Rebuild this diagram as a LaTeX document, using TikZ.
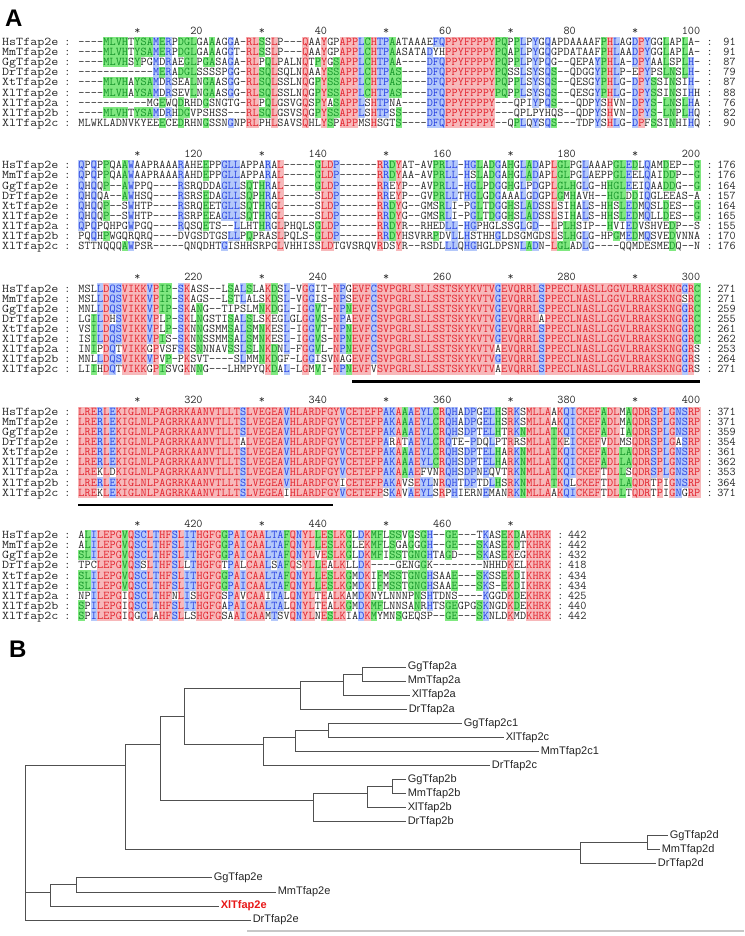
\documentclass[tikz,border=0pt]{standalone}
\usepackage{fontspec}
\usepackage{graphicx}
\setmainfont{Liberation Sans}
\usetikzlibrary{positioning}

\definecolor{alnbgr}{RGB}{247,184,186}
\definecolor{alnfgr}{RGB}{226,34,44}
\definecolor{alnbgb}{RGB}{180,200,250}
\definecolor{alnfgb}{RGB}{40,66,226}
\definecolor{alnbgg}{RGB}{128,232,128}
\definecolor{alnfgg}{RGB}{22,150,42}
\definecolor{alnfgn}{RGB}{40,40,40}
\definecolor{treeline}{RGB}{80,80,80}
\definecolor{hilite}{RGB}{232,24,24}

\newcommand{\alncw}{6.22}  % column pitch
\newcommand{\alnxo}{81.5}  % centre of column 1
\newcommand{\alnrh}{10.1}  % row pitch
\newcommand{\alnfont}{\fontsize{11.85}{12}\selectfont\ttfamily}
\newcounter{alnrowno}

% one residue: class, letter
\newcommand{\alncell}[2]{\hbox to \alncw pt{\hss\color{alnfg#1}#2\hss}}
% shaded run: class, first column, last column, y
\newcommand{\alnrun}[4]{%
  \fill[alnbg#1] ({\alnxo+(#2-1.5)*\alncw-0.1},{#4-\alnrh/2-0.2})
    rectangle ({\alnxo+(#3-0.5)*\alncw+0.1},{#4+\alnrh/2+0.2});}
% one row of residues: y, content
\newcommand{\alntext}[2]{\stepcounter{alnrowno}%
  \node[alnseq] (seq\arabic{alnrowno}) at ({\alnxo-\alncw/2},{#1+3.6}) {#2};}
% names: block, y of first row
\newcommand{\alnnames}[2]{%
  \foreach \nm [count=\r from 0] in {HsTfap2e,MmTfap2e,GgTfap2e,DrTfap2e,XtTfap2e,XlTfap2e,XlTfap2a,XlTfap2b,XlTfap2c}
    {\node[alnname] (nm#1-\r) at (2,{#2+\r*\alnrh+3.6}) {\scalebox{1.15}[1]{\nm}};
     \node[alncolon] (cl#1-\r) at (67.5,{#2+\r*\alnrh+3.6}) {:};}}
% end counts: block, y of first row, last column, counts
\newcommand{\alncounts}[4]{%
  \foreach \num [count=\r from 0] in {#4}
    {\node[alncolon] (cr#1-\r) at ({\alnxo+(#3+1)*\alncw},{#2+\r*\alnrh+3.6}) {:};
     \node[alnnum] (ct#1-\r) at ({\alnxo+(#3+5.2)*\alncw},{#2+\r*\alnrh+3.6}) {\num};}}
% ruler: y, offset, last column
\newcommand{\alnruler}[3]{%
  \foreach \c in {10,30,...,#3}
    {\node[alncolon] (st#2-\c) at ({\alnxo+(\c-1)*\alncw},{#1+3.6}) {*};}
  \foreach \c in {20,40,...,#3}
    {\pgfmathtruncatemacro\lab{#2+\c}
     \node[alnnum] (rn#2-\c) at ({\alnxo+(\c-0.5)*\alncw},{#1+3.6}) {\lab};}}

\ExplSyntaxOn
\int_new:N \l_aln_n_int
\int_new:N \l_aln_len_int
\int_new:N \l_aln_j_int
\int_new:N \l_aln_cnt_int
\int_new:N \l_aln_start_int
\tl_new:N \l_aln_ci_tl
\tl_new:N \l_aln_cur_tl
\tl_new:N \l_aln_prev_tl
\tl_new:N \l_aln_txt_tl
\fp_new:N \l_aln_y_fp
\fp_new:N \l_aln_ytop_fp
\seq_new:N \l_aln_rows_seq
\tl_const:Nx \c_aln_gap_tl { \tl_to_str:n { - } }
\tl_const:Nx \c_aln_none_tl { \tl_to_str:n { n } }

% 9 of 9 red, 7-8 blue, 5-6 green
\cs_new:Npn \aln_class:n #1
  {
    \int_compare:nNnTF {#1} > { 8 } { r }
      { \int_compare:nNnTF {#1} > { 6 } { b }
        { \int_compare:nNnTF {#1} > { 4 } { g } { n } } }
  }
\cs_new:Npn \aln_cls:nn #1#2 { \exp_args:Nv \str_item:nn { l_aln_cls_#1_tl } {#2} }
\cs_new:Npn \aln_chr:nn #1#2 { \exp_args:Nv \str_item:nn { l_aln_row_#1_tl } {#2} }
\cs_new_protected:Npn \aln_store:n #1
  {
    \tl_set:cx { l_aln_row_#1_tl } { \seq_item:Nn \l_aln_rows_seq {#1} }
    \tl_clear:c { l_aln_cls_#1_tl }
  }
\cs_new_protected:Npn \aln_getchar:n #1
  { \tl_set:cx { l_aln_c_#1_tl } { \aln_chr:nn {#1} { \l_aln_j_int } } }
\cs_new_protected:Npn \aln_match:n #1
  { \tl_if_eq:NcT \l_aln_ci_tl { l_aln_c_#1_tl } { \int_incr:N \l_aln_cnt_int } }
\cs_new_protected:Npn \aln_classify:n #1
  {
    \int_zero:N \l_aln_cnt_int
    \tl_set_eq:Nc \l_aln_ci_tl { l_aln_c_#1_tl }
    \tl_if_eq:NNF \l_aln_ci_tl \c_aln_gap_tl
      { \int_step_function:nN { \l_aln_n_int } \aln_match:n }
    \tl_put_right:cx { l_aln_cls_#1_tl } { \aln_class:n { \l_aln_cnt_int } }
  }
\cs_new_protected:Npn \aln_column:n #1
  {
    \int_set:Nn \l_aln_j_int {#1}
    \int_step_function:nN { \l_aln_n_int } \aln_getchar:n
    \int_step_function:nN { \l_aln_n_int } \aln_classify:n
  }
\cs_new_protected:Npn \aln_drawrow:n #1
  {
    \fp_set:Nn \l_aln_y_fp { \l_aln_ytop_fp + (#1 - 1) * \alnrh }
    \tl_clear:N \l_aln_txt_tl
    \tl_set_eq:NN \l_aln_prev_tl \c_aln_none_tl
    \int_set:Nn \l_aln_start_int { 1 }
    \int_step_inline:nn { \l_aln_len_int + 1 }
      {
        \int_compare:nNnTF {##1} > { \l_aln_len_int }
          { \tl_set_eq:NN \l_aln_cur_tl \c_aln_none_tl }
          {
            \tl_set:Nx \l_aln_cur_tl { \aln_cls:nn {#1} {##1} }
            \tl_put_right:Nx \l_aln_txt_tl
              { \exp_not:N \alncell { \l_aln_cur_tl } { \aln_chr:nn {#1} {##1} } }
          }
        \tl_if_eq:NNF \l_aln_cur_tl \l_aln_prev_tl
          {
            \tl_if_eq:NNF \l_aln_prev_tl \c_aln_none_tl
              {
                \use:x { \exp_not:N \alnrun { \l_aln_prev_tl } { \int_use:N \l_aln_start_int }
                  { \int_eval:n { ##1 - 1 } } { \fp_use:N \l_aln_y_fp } }
              }
            \int_set:Nn \l_aln_start_int {##1}
            \tl_set_eq:NN \l_aln_prev_tl \l_aln_cur_tl
          }
      }
    \use:x { \exp_not:N \alntext { \fp_use:N \l_aln_y_fp } { \exp_not:V \l_aln_txt_tl } }
  }
% block: y of first row, rows
\NewDocumentCommand \alnblock { m m }
  {
    \fp_set:Nn \l_aln_ytop_fp {#1}
    \seq_set_from_clist:Nn \l_aln_rows_seq {#2}
    \int_set:Nn \l_aln_n_int { \seq_count:N \l_aln_rows_seq }
    \int_step_function:nN { \l_aln_n_int } \aln_store:n
    \int_set:Nn \l_aln_len_int { \tl_count:c { l_aln_row_1_tl } }
    \int_step_function:nN { \l_aln_len_int } \aln_column:n
    \int_step_function:nN { \l_aln_n_int } \aln_drawrow:n
  }
\ExplSyntaxOff

\begin{document}
\begin{tikzpicture}[x=1pt, y=-1pt,
    alnseq/.style={anchor=base west, inner sep=0pt, outer sep=0pt, font=\alnfont},
    alnname/.style={anchor=base west, inner sep=0pt, font=\alnfont, text=alnfgn},
    alncolon/.style={anchor=base, inner sep=0pt, font=\alnfont, text=alnfgn},
    alnnum/.style={anchor=base east, inner sep=0pt, font=\alnfont, text=alnfgn},
    dbdline/.style={line width=2.4pt, black},
    panel/.style={anchor=base west, inner sep=0pt, font=\fontsize{24}{26}\selectfont\bfseries},
    leaf/.style={anchor=west, inner sep=1.6pt, font=\fontsize{11}{13}\selectfont, text=black!85},
    branch/.style={draw=treeline, line width=0.9pt}]
  \useasboundingbox (0,0) rectangle (744,936);
  \fill[white] (0,0) rectangle (744,936);

  \node[panel] (pA) at (5,27) {A};

  % block 1
  \alnruler{30.5}{0}{100}
  \alnblock{42}{
    ----MLVHTYSAMERPDGLGAAAGGA-RLSSLP---QAAYGPAPPLCHTPAATAAAEFQPPYFPPPYPQPPLPYGQAPDAAAAFPHLAGDPYGGLAPLA-,
    ----MLVHTYSAMERPDGLGAAAGGT-RLSSLP---QAAYGPAPPLCHTPAASATADYHPPYFPPPYPQAPLPYGQGPDATAAFPHLAADPYGGLAPLA-,
    ----MLVHSYPGMDRAEGLPGASAGA-RLPQLPALNQTPYGSAPPLCHTPAA----DFQPPYFPPPYPQPPLPYPQG--QEPAYPHLA-DPYAALSPLH-,
    ------------MERADGLSSSSPGG-RLSQLSQLNQAAYSSAPPLCHTPAS----DFQPPYFPPPYPQSSLSYSQS--QDGGYPHLP-EPYPSLNSLH-,
    ----MLVHAYSAMDRSEALNGAASGG-RLSQLSSLNQGPYSSAPPLCHTPAS----DFQPPYFPPPYPQPPLSYSQS--QESGYPHLG-DPYSSINSIH-,
    ----MLVHAYSAMDRSEVLNGAASGG-RLSQLSSLNQGPYSSAPPLCHTPAS----DFQPPYFPPPYPQPPLSYSQS--QESGYPHLG-DPYSSINSIHH,
    -----------MGEWQDRHDGSNGTG-RLPQLGSVGQSPYASAPPLSHTPNA----DFQPPYFPPPY---QPIYPQS---QDPYSHVN-DPYS-LNSLHA,
    ----MLVHTYSAMDRHDGVPSHSS---RLSQLGSVSQGPYSSAPPLSHTPSS----DFQPPYFPPPY---QPLPYHQS--QDPYSHVN-DPYS-LNPLHQ,
    MLWKLADNVKYEEECEDRHNGSSNGNPRLPHLSAVSQHLYSPAPPMSHSGTS----DFQPPYFPPPY--QPLQYSQS---TDPYSHLG-DPFSSINHIHQ}
  \alnnames{1}{42}
  \alncounts{1}{42}{100}{91,91,87,79,87,88,76,82,90}

  % block 2
  \alnruler{153.75}{100}{100}
  \alnblock{165.25}{
    QPQPPQAAWAAPRAAARAHEEPPGLLAPPARAL-----GLDP------RRDYAT-AVPRLL-HGLADGAHGLADAPLGLPGLAAAPGLEDLQAMDEP--G,
    QPQPPQAAWAAPRAAARAHDEPPGLLAPPARAL-----GLDP------RRDYAA-AVPRLL-HSLADGAHGLADAPLGLPGLAEPPGLEELQAIDDP--G,
    QHQQP--AWPPQ----RSRQDDAGLLSQTHRAL-----GLDP------RREYP--AVPRLL-HGLPDGGHGLPDGPLGLHGLG-HHGLEEIQAADDG--G,
    QHQQA--AWHSQ----RSRSEDAGLLSQPHRAL-----SLDP------RREYP--GVPRLLTHGLGDGAAALGDGPLGMHAVH--HGLDDIQGLEEAS-A,
    QHQQP--SWHTP----RSRQEETGLLSQTHRGL-----SLDP------RRDYG--GMSRLI-PGLTDGGHSLADSSLSIHALS-HHSLEDMQSLDES--G,
    QHQQP--SWHTP----RSRPEEAGLLSQTHRGL-----SLDP------RRDYG--GMSRLI-PGLTDGGHSLADSSLSIHALS-HHSLEDMQLLDES--G,
    QPQPQHPGWPGQ----RQSQETS--LLHTHRGLPHQLSGLDP------RRDYR--RHEDLL-HGPHGLSSGLGD--LPLHSIP--HVIEDVSHVEDP--S,
    PQQHPWGQRQRQ----DVGSDTGSLLPQPRASLPQLS-GLDP------RRDYHSVRRPDVLLHSTHHGLDSGMGDSLSLHGLG-HPGMEDMQSVEDVNNA,
    STTNQQQAWPSR-----QNQDHTGISHHSRPGLVHHISSLDTGVSRQVRDSYR--RSDLLLQHGHGLDPSNLADN-LGLADLG----QQMDESMEDQ--N}
  \alnnames{2}{165.25}
  \alncounts{2}{165.25}{100}{176,176,164,157,164,165,155,170,176}

  % block 3
  \alnruler{277}{200}{100}
  \alnblock{288.5}{
    MSLLDQSVIKKVPIP-SKASS--LSALSLAKDSL-VGGIT-NPGEVFCSVPGRLSLLSSTSKYKVTVGEVQRRLSPPECLNASLLGGVLRRAKSKNGGRC,
    MSLLDQSVIKKVPIP-SKAGS--LSTLALSKDSL-VGGIS-NPSEVFCSVPGRLSLLSSTSKYKVTVGEVQRRLSPPECLNASLLGGVLRRAKSKNGSRC,
    MNLLDQSVIKKVPIP-SKANG--TIPSLMNKDGL-IGGVT-NPNEVFCSVPGRLSLLSSTSKYKVTVGEVQRRLSPPECLNASLLGGVLRRAKSKNGGRC,
    LGILDHSVIKKVPLP-SKLNGSTISALSLSKEGLGLGGVS-NPAEVFCSVPGRLSLLSSTSKYKVTVGEVQRRLAPPECLNASLLGGVLRRAKSKNGGRC,
    VSILDQSVIKKVPLP-SKNNGSMMSALSMNKESL-IGGVT-NPNEVFCSVPGRLSLLSSTSKYKVTVGEVQRRLSPPECLNASLLGGVLRRAKSKNGGRC,
    ISILDQSVIKKVPIS-SKNNSSMMSALSMNKESL-IGGVS-NPNEVFCSVPGRLSLLSSTSKYKVTVGEVQRRLSPPECLNASLLGGVLRRAKSKNGGRC,
    INIPDQTVIKKGPVSFSKSNNNAVSSLSLNKDNL-FGGVL-NPNEVFCSVPGRLSLLSSTSKYKVTVAEVQRRLSPPECLNASLLGGVLRRAKSKNGGRS,
    MNLLDQSVIKKVPVP-PKSVT----SLMMNKDGF-LGGISVNAGEVFCSVPGRLSLLSSTSKYKVTVGEVQRRLSPPECLNASLLGGVLRRAKSKNGGRS,
    LIIHDQTVIKKGPISVGKNNG---LHMPYQKDAL-LGMVI-NPNEVFVSVPGRLSLLSSTSKYKVTVAEVQRRLSPPECLNASLLGGVLRRAKSKNGGRS}
  \alnnames{3}{288.5}
  \alncounts{3}{288.5}{100}{271,271,259,255,261,262,253,264,271}
  \draw[dbdline] ({\alnxo+43.5*\alncw},381.5) -- ({\alnxo+99.5*\alncw},381.5);

  % block 4
  \alnruler{400.25}{300}{100}
  \alnblock{411.75}{
    LRERLEKIGLNLPAGRRKAANVTLLTSLVEGEAVHLARDFGYVCETEFPAKAAAEYLCRQHADPGELHSRKSMLLAAKQICKEFADLMAQDRSPLGNSRP,
    LRERLEKIGLNLPAGRRKAANVTLLTSLVEGEAVHLARDFGYVCETEFPAKAAAEYLCRQHADPGELHSRKSMLLAAKQICKEFADLMAQDRSPLGNSRP,
    LRERLEKIGLNLPAGRRKAANVTLLTSLVEGEAVHLARDFGYVCETEFPAKAAAEYLCRQHSDPTELHTRKNMLLATKQICKEFADLIAQDRSPLGNSRP,
    LRERLEKIGLNLPAGRRKAANVTLLTALVEGEAVHLARDFGYVCETEFPARATAEYLCRQTE-PDQLPTRRSMLLATKEICKEFVDLMSQDRSPLGASRP,
    LRERLEKIGLNLPAGRRKAANVTLLTSLVEGEAVHLARDFGYVCETEFPAKAAAEYLCRQHSDPTELHARKNMLLATKQICKEFADLLAQDRSPLGNSRP,
    LRERLEKIGLNLPAGRRKAANVTLLTSLVEGEAVHLARDFGYVCETEFPAKAAAEYLCRQHSDPTELHARKNMLLATKQICKEFADLLAQDRSPLGNSRP,
    LREKLDKIGLNLPAGRRKAANVTLLTSLVEGEAVHLARDFGYVCETEFPAKAAAEFVNRQHSDPNEQVTRKNMLLATKQICKEFTDLLSQDRSPLGNSRP,
    LRERLEKIGLNLPAGRRKAANVTLLTSLVEGEAVHLARDFGYICETEFPAKAVSEYLNRQHTDPTDLHSRKNMLLATKQLCKEFTDLLAQDRTPIGNSRP,
    LREKLEKIGLNLPAGRRKAANVTLLTSLVEGEAIHLARDFGYVCETEFPSKAVAEYLSRPHIERNEMANRKNMLLAAKQICKEFTDLLTQDRTPIGNGRP}
  \alnnames{4}{411.75}
  \alncounts{4}{411.75}{100}{371,371,359,354,361,362,353,364,371}
  \draw[dbdline] ({\alnxo-0.5*\alncw},505) -- ({\alnxo+40.5*\alncw},505);

  % block 5
  \alnruler{523.5}{400}{76}
  \alnblock{535}{
    ALILEPGVQSCLTHFSLITHGFGGPAICAALTAFQNYLLESLKGLDKMFLSSVGSGH--GE---TKASEKDAKHRK,
    ALILEPGVQSCLTHFSLITHGFGGPAICAALTAFQNYLLESLKGLEKMFLSGAGGGH--GE---SKASEKDTKHRK,
    SLILEPGVQSCLTHFSLITHGFGGPAICAALTAFQNYLVESLKGLDKMFISSTGNGHTAGD---SKASEKEGKHRK,
    TPCLEPGVQSSLTHFSLLTHGFGTPALCAALSAFQSYLLEALKLLDK----GENGGK--------NHHDKELKHRK,
    SLILEPGVQSCLTHFSLITHGFGGPAICAALTAFQNYLLESLKGMDKIFMSSTGNGHSAAE---SKSSEKDIKHRK,
    SLILEPGVQSCLTHFSLITHGFGGPAICAALTAFQNYLLESLKGMDKIFMSSTGNGHSAAE---SKS-EKDIKHRK,
    NPILEPGIQSCLTHFNLISHGFGSPAVCAAITALQNYLTEALKAMDKNYLNNNPNSHTDNS----KGGDKDEKHRK,
    SPILEPGIQSCLTHFSLITHGFGAPAICAALTALQNYLTEALKGMDKMFLNNSANRHTSGEGPGSKNGDKDEKHRK,
    SPILEPGIQGCLAHFSLLSHGFGSAAICAAMTSVQNYLNESLKIADKMYMNSGEQSP--GE---SKNLDKMDKHRK}
  \alnnames{5}{535}
  \alncounts{5}{535}{76}{442,442,432,418,434,434,425,440,442}

  % tree
  \node[panel] (pB) at (9,657) {B};
  \node[leaf] (Gg2a) at (406,667)    {GgTfap2a};
  \node[leaf] (Mm2a) at (406,681.06) {MmTfap2a};
  \node[leaf] (Xl2a) at (410,695.12) {XlTfap2a};
  \node[leaf] (Dr2a) at (407,709.18) {DrTfap2a};
  \node[leaf] (Gg2c) at (462,723.24) {GgTfap2c1};
  \node[leaf] (Xl2c) at (504,737.3)  {XlTfap2c};
  \node[leaf] (Mm2c) at (539,751.36) {MmTfap2c1};
  \node[leaf] (Dr2c) at (490,765.42) {DrTfap2c};
  \node[leaf] (Gg2b) at (406,779.48) {GgTfap2b};
  \node[leaf] (Mm2b) at (406,793.54) {MmTfap2b};
  \node[leaf] (Xl2b) at (406,807.6)  {XlTfap2b};
  \node[leaf] (Dr2b) at (406,821.66) {DrTfap2b};
  \node[leaf] (Gg2d) at (668,835.72) {GgTfap2d};
  \node[leaf] (Mm2d) at (660,849.78) {MmTfap2d};
  \node[leaf] (Dr2d) at (656,863.84) {DrTfap2d};
  \node[leaf] (Gg2e) at (212,877.9)  {GgTfap2e};
  \node[leaf] (Mm2e) at (276,891.96) {MmTfap2e};
  \node[leaf, text=hilite, font=\fontsize{11}{13}\selectfont\bfseries] (Xl2e) at (219,906.02) {XlTfap2e};
  \node[leaf] (Dr2e) at (251,920.08) {DrTfap2e};

  \coordinate (a12)   at (362,674.03);
  \coordinate (a123)  at (343,681.06);
  \coordinate (cla)   at (300,688.09);
  \coordinate (c56)   at (328,730.27);
  \coordinate (c567)  at (295,737.3);
  \coordinate (clc)   at (263,744.33);
  \coordinate (ac)    at (184,716.21);
  \coordinate (b910)  at (392,786.51);
  \coordinate (b911)  at (367,793.54);
  \coordinate (clb)   at (313,800.57);
  \coordinate (acb)   at (160,744.33);
  \coordinate (d1314) at (647,842.75);
  \coordinate (cld)   at (580,849.78);
  \coordinate (core)  at (125,765.42);
  \coordinate (e1617) at (76,884.93);
  \coordinate (cle)   at (50,891.96);
  \coordinate (root)  at (25,793.54);

  \foreach \p/\c in {root/core, root/cle, root/Dr2e.west, core/acb, core/cld,
      acb/ac, acb/clb, ac/cla, ac/clc,
      cla/a123, cla/Dr2a.west, a123/a12, a123/Xl2a.west, a12/Gg2a.west, a12/Mm2a.west,
      clc/c567, clc/Dr2c.west, c567/c56, c567/Mm2c.west, c56/Gg2c.west, c56/Xl2c.west,
      clb/b911, clb/Dr2b.west, b911/b910, b911/Xl2b.west, b910/Gg2b.west, b910/Mm2b.west,
      cld/d1314, cld/Dr2d.west, d1314/Gg2d.west, d1314/Mm2d.west,
      cle/e1617, cle/Xl2e.west, e1617/Gg2e.west, e1617/Mm2e.west}
    \draw[branch] (\p) |- (\c);

  \draw[black!22, line width=1.5pt] (247,931) -- (744,931);
\end{tikzpicture}
\end{document}
